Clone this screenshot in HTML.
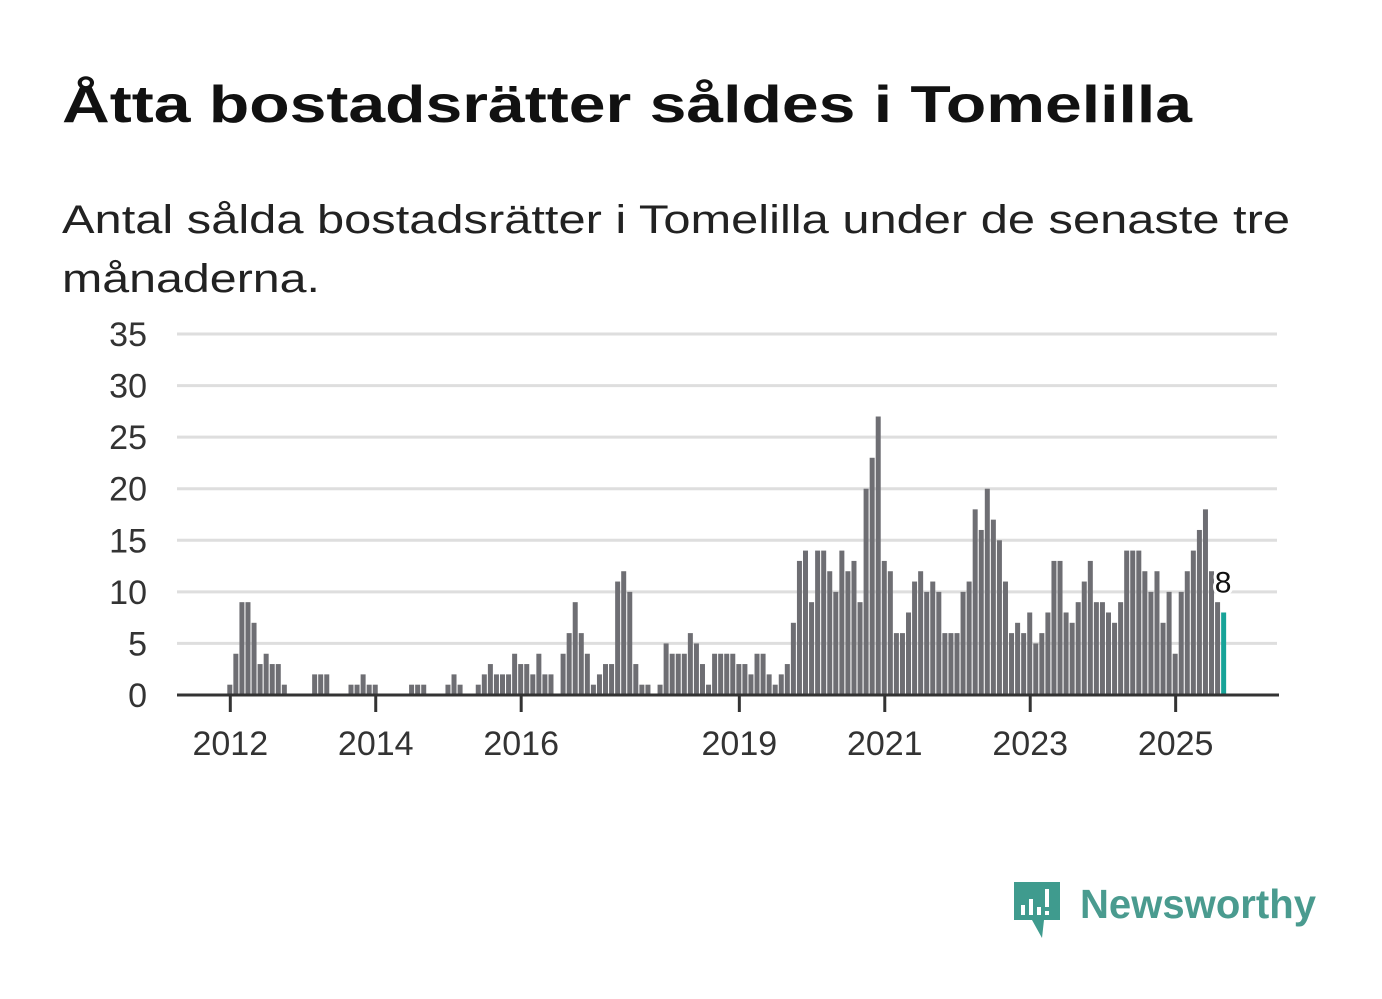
<!DOCTYPE html>
<html><head><meta charset="utf-8"><style>
html,body{margin:0;padding:0;background:#fff;}
svg{display:block;font-family:"Liberation Sans",sans-serif;}
</style></head><body>
<svg id="chart" width="1382" height="999" viewBox="0 0 1382 999">
<text x="62" y="122" font-size="52" font-weight="bold" fill="#111" textLength="1130" lengthAdjust="spacingAndGlyphs">Åtta bostadsrätter såldes i Tomelilla</text>
<text x="62" y="233" font-size="40" fill="#222" textLength="1228" lengthAdjust="spacingAndGlyphs">Antal sålda bostadsrätter i Tomelilla under de senaste tre</text>
<text x="62" y="292" font-size="40" fill="#222" textLength="258" lengthAdjust="spacingAndGlyphs">månaderna.</text>
<g id="grid"></g><g id="bars"></g><g id="axis"></g><g id="labels"></g>
<g>
<path d="M1014 882 h46 v38 h-16 l-2 18 l-10 -18 h-18 z" fill="#3f9b8e"/>
<rect x="1021" y="905" width="4" height="10" fill="#fff"/><rect x="1029" y="899" width="4" height="16" fill="#fff"/><rect x="1037" y="907" width="4" height="8" fill="#fff"/><rect x="1045" y="889" width="4" height="18" fill="#fff"/><rect x="1045" y="911" width="4" height="4" fill="#fff"/>
<text x="1080" y="918" font-size="41" font-weight="bold" fill="#4a9b8f" textLength="236" lengthAdjust="spacingAndGlyphs">Newsworthy</text>
</g>
</svg>
<script>
const values = [1,4,9,9,7,3,4,3,3,1,0,0,0,0,2,2,2,0,0,0,1,1,2,1,1,0,0,0,0,0,1,1,1,0,0,0,1,2,1,0,0,
1,2,3,2,2,2,4,3,3,2,4,2,2,0,4,6,9,6,4,1,2,3,3,11,12,10,3,1,1,0,1,5,4,4,4,6,5,3,1,4,4,4,4,3,3,2,
4,4,2,1,2,3,7,13,14,9,14,14,12,10,14,12,13,9,20,23,27,13,12,6,6,8,11,12,10,11,10,6,6,6,10,11,18,16,20,17,15,11,6,
7,6,8,5,6,8,13,13,8,7,9,11,13,9,9,8,7,9,14,14,14,12,10,12,7,10,4,10,12,14,16,18,12,9,8];
const startYear = 2012;
const yTicks = [0,5,10,15,20,25,30,35];
const xTickYears = [2012,2014,2016,2019,2021,2023,2025];
const lastLabel = "8";

const NS="http://www.w3.org/2000/svg";
const X0=227.3, STEP=6.06, Y0=695, UNIT=(695-334)/35;
const xOf=i=>X0+i*STEP;
const yOf=v=>Y0-v*UNIT;
function mk(tag,attrs,parent){const e=document.createElementNS(NS,tag);for(const k in attrs)e.setAttribute(k,attrs[k]);parent.appendChild(e);return e;}
const grid=document.getElementById('grid'),bars=document.getElementById('bars'),axis=document.getElementById('axis'),labels=document.getElementById('labels');
yTicks.forEach(t=>{
  if(t>0){const l=mk('line',{x1:177,x2:1277,y1:yOf(t),y2:yOf(t),stroke:'#dedede','stroke-width':3},grid);
  
  }
  const tx=mk('text',{x:147,y:yOf(t)+12,'font-size':34,fill:'#333','text-anchor':'end'},grid);
  tx.textContent=t;
  
  
});
values.forEach((v,i)=>{
  if(v<=0)return;
  const last=i===values.length-1;
  const r=mk('rect',{x:xOf(i),y:yOf(v),width:5,height:v*UNIT,fill:last?'#17a398':'#6e6e73'},bars);
  
  
});
const base=mk('line',{x1:177,x2:1279,y1:Y0,y2:Y0,stroke:'#333','stroke-width':3},axis);


xTickYears.forEach(yr=>{
  const cx=xOf((yr-startYear)*12)+3;
  const tk=mk('line',{x1:cx,x2:cx,y1:Y0,y2:712,stroke:'#333','stroke-width':3},axis);
  
  
  const t=mk('text',{x:cx,y:755,'font-size':34,fill:'#333','text-anchor':'middle'},axis);
  t.textContent=yr;
  
  
});
const li=values.length-1;
const lx=xOf(li)+2, ly=yOf(values[li])-20;
const lab=mk('text',{x:lx,y:ly,'font-size':30,fill:'#111','text-anchor':'middle',stroke:'#fff','stroke-width':6,'paint-order':'stroke','stroke-linejoin':'round'},labels);
lab.textContent=lastLabel;


</script>
</body></html>
